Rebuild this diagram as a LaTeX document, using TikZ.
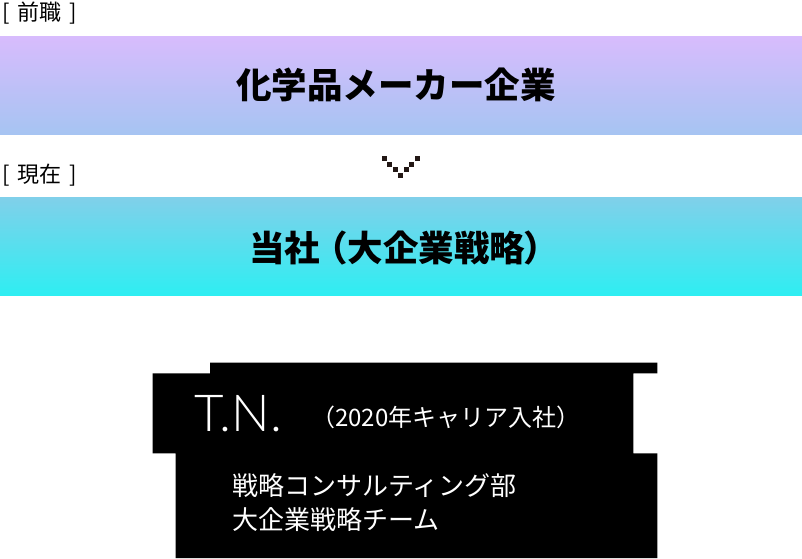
\documentclass[tikz,border=0pt]{standalone}
\usepackage{fontspec}
\setmainfont{Noto Sans CJK JP}
\newfontfamily\tnfont{Lato Light}
\definecolor{barAtop}{RGB}{216,188,253}
\definecolor{barAbot}{RGB}{166,196,242}
\definecolor{barBtop}{RGB}{128,208,234}
\definecolor{barBbot}{RGB}{46,238,242}
\definecolor{chev}{RGB}{35,24,21}
\begin{document}
\begin{tikzpicture}[x=1pt,y=-1pt,
  bar/.style={minimum width=802pt,minimum height=98pt,inner sep=0pt},
  bartext/.style={inner sep=0pt,font=\fontsize{35.5}{40}\selectfont\bfseries, text=black},
  tag/.style={anchor=west,inner sep=0pt,font=\fontsize{22}{24}\selectfont},
  wtext/.style={text=white,inner sep=0pt,anchor=base west},
  px/.style={fill=chev}]
\useasboundingbox (0,0) rectangle (802,558);
% bars
\node[bar, top color=barAtop, bottom color=barAbot] (prev) at (401,85) {};
\node[bar, top color=barBtop, bottom color=barBbot] (curr) at (401,246.5) {};
\node[bartext] (prevtext) at (396,85) {化学品メーカー企業};
\node[bartext] (currtext) at (404,248) {当社\kern-8pt（大企業戦略\kern-2pt）};
% labels
\node[tag] (lprev) at (2,13) {[\hspace{8pt}前職\hspace{8pt}]};
\node[tag] (lcurr) at (2,175) {[\hspace{8pt}現在\hspace{8pt}]};
% pixel chevron
\foreach \x/\y in {381.7/156,387.3/161.7,392.7/167.3,398.3/172.7,404/167.3,409.3/161.7,415/156}
  \fill[px] (\x,\y) rectangle ++(5,5);
% black box
\fill[black] (210,362.7) -- (657.3,362.7) -- (657.3,373.3) -- (633.3,373.3)
  -- (633.3,453.3) -- (657.3,453.3) -- (657.3,558) -- (175.7,558)
  -- (175.7,453.3) -- (152.7,453.3) -- (152.7,373.3) -- (210,373.3) -- cycle;
\node[wtext, font=\tnfont\fontsize{51}{54}\selectfont] (tn) at (194,431) {T.N.};
\node[wtext, font=\fontsize{24}{28}\selectfont] (join) at (311,426.7) {（2020年キャリア入社）};
\node[wtext, font=\fontsize{26}{30}\selectfont] (dept) at (232,495) {戦略コンサルティング部};
\node[wtext, font=\fontsize{26}{30}\selectfont] (team) at (232,529) {大企業戦略チーム};
\end{tikzpicture}
\end{document}
